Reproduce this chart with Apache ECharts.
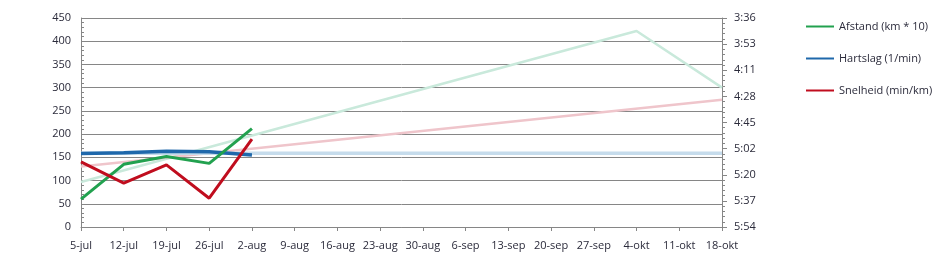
<!DOCTYPE html>
<html>
<head>
<meta charset="utf-8">
<script src="https://cdn.jsdelivr.net/npm/echarts@6/dist/echarts.min.js"></script>
<style>html,body{margin:0;padding:0;background:#fff}#c{width:951px;height:274px}</style>
</head>
<body>
<div id="c"></div>
<script>
var categories = ['5-jul','12-jul','19-jul','26-jul','2-aug','9-aug','16-aug','23-aug','30-aug','6-sep','13-sep','20-sep','27-sep','4-okt','11-okt','18-okt'];
// Afstand (km*10), left axis
var afstand = [60, 135, 152, 137, 212, null, null, null, null, null, null, null, null, null, null, null];
// Hartslag (1/min), left axis
var hartslag = [158, 160, 163, 162, 155, null, null, null, null, null, null, null, null, null, null, null];
// Snelheid (seconds per km), right axis
var snelheid = [311, 325, 313, 335, 296, null, null, null, null, null, null, null, null, null, null, null];
// faded goal / trend lines
var afstandDoel = [97, null, null, null, null, null, null, null, null, null, null, null, null, 422, null, 300];
var hartslagDoel = [159, null, null, null, null, null, null, null, null, null, null, null, null, null, null, 159];
var snelheidDoel = [314, null, null, null, null, null, null, null, null, null, null, null, null, null, null, 270];
// right axis range in seconds per km (3:36 .. 5:54)
var paceMin = 216, paceMax = 354;

function toAxis(arr){ return arr.map(function(s){ return s == null ? null : s - paceMin; }); }
function mmss(sec){ var t = Math.round(sec); var m = Math.floor(t/60), s = t % 60; return m + ':' + (s < 10 ? '0' : '') + s; }

var axisColor = '#868686';
var textColor = '#2b2b3b';
var font = 'Open Sans';

var chart = echarts.init(document.getElementById('c'), null, {renderer:'canvas'});
chart.setOption({
  animation: false,
  backgroundColor: '#fff',
  grid: {left: 81, right: 229, top: 18, bottom: 47},
  legend: {
    orient: 'vertical', left: 801, top: 16, itemGap: 21,
    itemWidth: 28, itemHeight: 2, icon: 'rect',
    data: ['Afstand (km * 10)', 'Hartslag (1/min)', 'Snelheid (min/km)'],
    textStyle: {fontFamily: font, fontSize: 11, color: textColor}
  },
  xAxis: {
    type: 'category', data: categories, boundaryGap: false,
    axisLine: {lineStyle: {color: axisColor}},
    axisTick: {show: true, length: 4, lineStyle: {color: axisColor}, alignWithLabel: true},
    axisLabel: {interval: 0, fontFamily: font, fontSize: 11, color: textColor, margin: 13},
    splitLine: {show: false}
  },
  yAxis: [{
    type: 'value', min: 0, max: 450, interval: 50, position: 'left',
    axisLine: {show: true, lineStyle: {color: axisColor}},
    axisTick: {show: true, length: 4, inside: true, lineStyle: {color: axisColor}},
    minorTick: {show: true, splitNumber: 5, length: 3, lineStyle: {color: axisColor}},
    axisLabel: {fontFamily: font, fontSize: 11, color: textColor, margin: 10},
    splitLine: {show: true, lineStyle: {color: axisColor, width: 1}}
  }, {
    type: 'value', min: 0, max: paceMax - paceMin, interval: (paceMax - paceMin) / 8, position: 'right',
    inverse: true,
    axisLine: {show: true, lineStyle: {color: axisColor}},
    axisTick: {show: true, length: 5, lineStyle: {color: axisColor}},
    minorTick: {show: true, splitNumber: 5, length: 3, lineStyle: {color: axisColor}},
    axisLabel: {fontFamily: font, fontSize: 11, color: textColor, margin: 12,
      formatter: function(v){ return mmss(v + paceMin); }},
    splitLine: {show: false}
  }],
  series: [
    {name: 'afstand doel', type: 'line', yAxisIndex: 0, data: afstandDoel, connectNulls: true,
      showSymbol: false, lineStyle: {color: '#c9e9db', width: 2.5}, itemStyle: {color: '#c9e9db'}, z: 1},
    {name: 'snelheid doel', type: 'line', yAxisIndex: 1, data: toAxis(snelheidDoel), connectNulls: true,
      showSymbol: false, lineStyle: {color: '#efc5cb', width: 2.5}, itemStyle: {color: '#efc5cb'}, z: 1},
    {name: 'hartslag doel', type: 'line', yAxisIndex: 0, data: hartslagDoel, connectNulls: true,
      showSymbol: false, lineStyle: {color: '#c6dcec', width: 3.5}, itemStyle: {color: '#c6dcec'}, z: 1},
    {name: 'Afstand (km * 10)', type: 'line', yAxisIndex: 0, data: afstand,
      showSymbol: false, lineStyle: {color: '#22a14f', width: 3}, itemStyle: {color: '#22a14f'}, z: 3},
    {name: 'Hartslag (1/min)', type: 'line', yAxisIndex: 0, data: hartslag,
      showSymbol: false, lineStyle: {color: '#1f68ab', width: 3.5}, itemStyle: {color: '#1f68ab'}, z: 2},
    {name: 'Snelheid (min/km)', type: 'line', yAxisIndex: 1, data: toAxis(snelheid),
      showSymbol: false, lineStyle: {color: '#c00d1e', width: 3}, itemStyle: {color: '#c00d1e'}, z: 4}
  ]
});
</script>
</body>
</html>
